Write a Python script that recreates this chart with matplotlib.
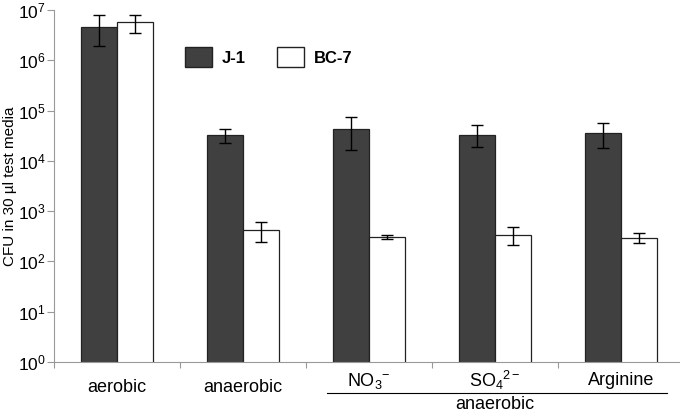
import numpy as np
import matplotlib
matplotlib.use("Agg")
from matplotlib import pyplot as plt
from matplotlib.patches import Patch
from matplotlib.transforms import blended_transform_factory

plt.rcParams['font.family'] = ['Liberation Sans', 'DejaVu Sans']
plt.rcParams['mathtext.fontset'] = 'custom'
plt.rcParams['mathtext.rm'] = 'Liberation Sans'
plt.rcParams['mathtext.it'] = 'Liberation Sans:italic'
plt.rcParams['mathtext.bf'] = 'Liberation Sans:bold'

# data
conditions = ["aerobic", "anaerobic", r"$\mathregular{NO_3{}^{-}}$",
              r"$\mathregular{SO_4{}^{2-}}$", "Arginine"]
j1 = [4.6e6, 3.3e4, 4.3e4, 3.3e4, 3.6e4]
j1_low = [1.9e6, 2.3e4, 1.66e4, 1.86e4, 1.8e4]
j1_high = [8.1e6, 4.4e4, 7.6e4, 5.1e4, 5.7e4]
bc7 = [5.8e6, 420, 312, 330, 290]
bc7_low = [3.5e6, 246, 283, 217, 229]
bc7_high = [8.1e6, 612, 339, 485, 363]

x = np.arange(len(conditions))
w = 0.286

fig = plt.figure(figsize=(6.8, 4.13), dpi=100)
ax = fig.add_axes([54/680, 51/413, 630/680, 352/413])

j1 = np.array(j1); bc7 = np.array(bc7)
ax.bar(x - w/2, j1, w, color='#404040', edgecolor='#222222', linewidth=0.9, label='J-1')
ax.bar(x + w/2, bc7, w, color='white', edgecolor='#222222', linewidth=0.9, label='BC-7')
ax.errorbar(x - w/2, j1, yerr=[j1 - np.array(j1_low), np.array(j1_high) - j1],
            fmt='none', ecolor='black', elinewidth=1, capsize=4.3, capthick=1)
ax.errorbar(x + w/2, bc7, yerr=[bc7 - np.array(bc7_low), np.array(bc7_high) - bc7],
            fmt='none', ecolor='black', elinewidth=1, capsize=4.3, capthick=1)

ax.set_yscale('log')
ax.set_ylim(1, 1e7)
ax.set_xlim(-0.5, 4.5)
ax.set_yticks([10**i for i in range(8)])
ax.minorticks_off()
ax.tick_params(axis='y', which='major', length=5, color='#999999', labelsize=12.5, pad=1)
ax.set_xticks(np.arange(-0.5, 4.6, 1.0))
ax.set_xticklabels([])
ax.tick_params(axis='x', length=4, color='#999999')
for s in ['top', 'right']:
    ax.spines[s].set_visible(False)
for s in ['left', 'bottom']:
    ax.spines[s].set_color('#999999')
ax.set_ylabel("CFU in 30 \u00b5l test media", fontsize=11)
ax.yaxis.set_label_coords(-0.058, 0.5)

tr = blended_transform_factory(ax.transData, ax.transAxes)
for i, lab in enumerate(conditions):
    yy = -0.073 if i < 2 else -0.053
    ax.text(x[i], yy, lab, transform=tr, ha='center', va='center', fontsize=13)
ax.plot([1.667, 4.365], [-0.088, -0.088], transform=tr, color='black', lw=0.8, clip_on=False)
ax.text(3.0, -0.122, "anaerobic", transform=tr, ha='center', va='center', fontsize=13)

handles = [Patch(facecolor='#404040', edgecolor='#222222', label='J-1'),
           Patch(facecolor='white', edgecolor='#222222', label='BC-7')]
leg = ax.legend(handles=handles, ncol=2, frameon=False, loc='center',
                bbox_to_anchor=(0.341, 0.866), handlelength=1.6, handleheight=1.45,
                columnspacing=1.85, handletextpad=0.6, prop={'weight': 'bold', 'size': 12})

fig.savefig("out.png", dpi=100)
